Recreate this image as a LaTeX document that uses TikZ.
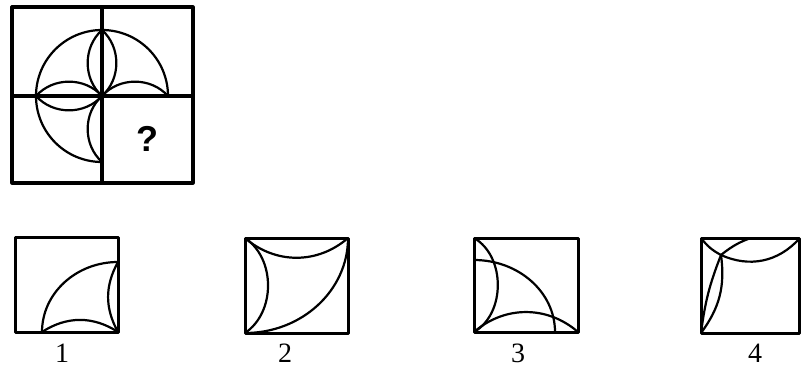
\documentclass[tikz,border=0pt]{standalone}
\usepackage{fontspec}
\setmainfont{Liberation Serif}
\newfontfamily\qfont{Liberation Sans}

\begin{document}
\begin{tikzpicture}[x=0.5pt, y=0.5pt, line join=round,
  frame/.style={line width=1.6pt},
  curve/.style={line width=1.1pt},
  optbox/.style={line width=1.5pt},
]
  \useasboundingbox (0,0) rectangle (801,376);
  % 题图
  \coordinate (O) at (102,280);
  \coordinate (T) at (102,346);
  \coordinate (L) at (36,280);
  \coordinate (R) at (168,280);
  \coordinate (B) at (102,214);
  \draw[frame] (12,193) rectangle (193,369);
  \draw[frame] (102,193) -- (102,369);
  \draw[frame] (12,280) -- (193,280);
  \draw[curve] (R) arc[start angle=0, end angle=270, radius=66];
  \draw[curve] (O) to[bend left=48] (T);
  \draw[curve] (O) to[bend right=48] (T);
  \draw[curve] (O) to[bend left=48] (L);
  \draw[curve] (O) to[bend right=48] (L);
  \draw[curve] (O) to[bend left=48] (R);
  \draw[curve] (O) to[bend right=48] (B);
  \node[font=\qfont\bfseries\fontsize{18}{20}\selectfont] (q) at (147,237) {?};

  % 选项 1
  \coordinate (a1) at (42,44);
  \coordinate (b1) at (118,44);
  \coordinate (c1) at (118,114);
  \draw[curve] (a1) arc[start angle=180, end angle=90, x radius=76, y radius=70];
  \draw[curve] (a1) to[bend left=33] (b1);
  \draw[curve] (c1) to[bend right=29] (b1);
  \draw[optbox] (15,44) rectangle (118,139);

  % 选项 2
  \coordinate (a2) at (245,138);
  \coordinate (b2) at (348,138);
  \coordinate (c2) at (245,43);
  \draw[curve] (b2) arc[start angle=0, end angle=-90, x radius=103, y radius=95];
  \draw[curve] (a2) to[bend right=41] (b2);
  \draw[curve] (a2) to[bend left=56] (c2);
  \draw[optbox] (245,43) rectangle (348,138);

  % 选项 3
  \coordinate (a3) at (474,44);
  \coordinate (b3) at (578,44);
  \coordinate (c3) at (474,138);
  \coordinate (d3) at (555,44);
  \draw[curve] (d3) arc[start angle=0, end angle=90, x radius=81, y radius=72];
  \draw[curve] (c3) to[bend left=60] (a3);
  \draw[curve] (a3) to[bend left=41] (b3);
  \draw[optbox] (474,44) rectangle (578,138);

  % 选项 4
  \coordinate (J) at (721,121);
  \coordinate (a4) at (701,43);
  \coordinate (c4) at (701,138);
  \coordinate (e4) at (799,137);
  \begin{scope}
    \clip (701,43) rectangle (799,138);
    \draw[curve] (c4) to[bend right=12] (J);
    \draw[curve] (J) to[bend left=28] (e4);
    \draw[curve] (J) to[bend right=36] (e4);
    \draw[curve] (J) to[bend left=22] (a4);
    \draw[curve] (J) to[bend right=7] (a4);
  \end{scope}
  \draw[optbox] (701,43) rectangle (799,138);

  \foreach \n/\x in {1/62, 2/285, 3/518, 4/755}
    \node[font=\fontsize{14}{16}\selectfont] (lab\n) at (\x,23) {\n};
\end{tikzpicture}
\end{document}
